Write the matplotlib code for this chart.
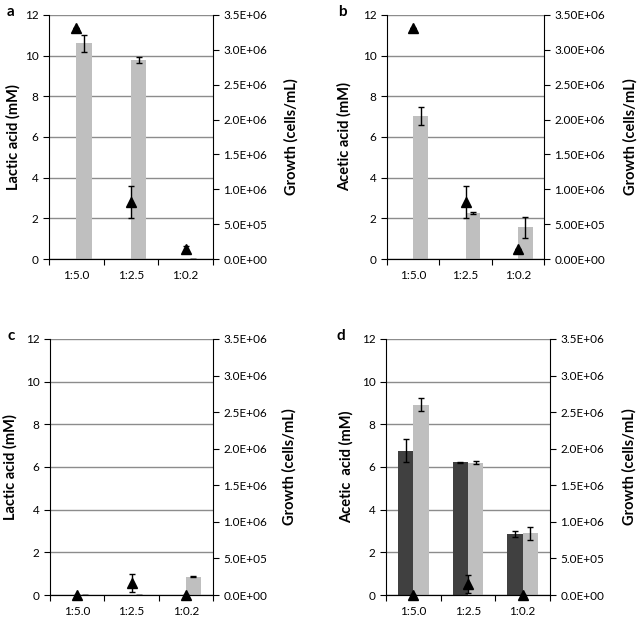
import numpy as np
import matplotlib.pyplot as plt

plt.rcParams['font.family'] = ['Lato', 'DejaVu Sans']

ratios = ['1:5.0', '1:2.5', '1:0.2']

# panel a: lactic acid + growth
a_acid = [10.6, 9.79, 0.0]
a_acid_err = [0.42, 0.15, 0.0]
a_growth = [3.31e6, 8.2e5, 1.5e5]
a_growth_err = [0.0, 2.3e5, 3e4]

# panel b: acetic acid + growth
b_acid = [7.02, 2.25, 1.57]
b_acid_err = [0.45, 0.05, 0.52]
b_growth = [3.31e6, 8.2e5, 1.5e5]
b_growth_err = [0.0, 2.3e5, 0.0]

# panel c: lactic acid + growth
c_acid = [0.0, 0.0, 0.86]
c_acid_err = [0.0, 0.0, 0.02]
c_growth = [0.0, 1.6e5, 0.0]
c_growth_err = [0.0, 1.25e5, 0.0]

# panel d: acetic acid (two series) + growth
d_acid_dark = [6.76, 6.23, 2.86]
d_acid_dark_err = [0.53, 0.02, 0.14]
d_acid_light = [8.92, 6.2, 2.9]
d_acid_light_err = [0.3, 0.07, 0.3]
d_growth = [0.0, 1.5e5, 0.0]
d_growth_err = [0.0, 1.25e5, 0.0]

LIGHT = '#bfbfbf'
DARK = '#404040'
TICKFS = 8.5
LABFS = 10.5


def panel(rect, letter, acid, acid_err, growth, growth_err, ylabel, fmt,
          lab_left, lab_right, dark=None, dark_err=None):
    ax = fig.add_axes(rect)
    x = np.arange(len(ratios))
    w = 0.28
    if dark is not None:
        ax.bar(x - w / 2, dark, w, color=DARK, zorder=2)
        ax.errorbar(x - w / 2, dark, yerr=dark_err, fmt='none', ecolor='black',
                    elinewidth=1, capsize=2.5, zorder=3)
    ax.bar(x + w / 2, acid, w, color=LIGHT, zorder=2)
    ax.errorbar(x + w / 2, acid, yerr=acid_err, fmt='none', ecolor='black',
                elinewidth=1, capsize=2.5, zorder=3)
    ax.set_xlim(-0.5, 2.5)
    ax.set_ylim(0, 12)
    ax.set_yticks(range(0, 13, 2))
    ax.yaxis.grid(True, color='#8c8c8c', lw=1)
    ax.set_axisbelow(True)
    ax.set_xticks([-0.5, 0.5, 1.5, 2.5])
    ax.set_xticklabels([])
    ax.set_xticks(x, minor=True)
    ax.set_xticklabels(ratios, minor=True)
    ax.tick_params(axis='x', which='major', direction='out', length=4)
    ax.tick_params(axis='x', which='minor', length=0, pad=8, labelsize=TICKFS)
    ax.tick_params(axis='y', direction='out', length=4, labelsize=TICKFS)
    for s in ['top', 'right']:
        ax.spines[s].set_visible(False)
    ax.set_ylabel(ylabel, fontsize=LABFS, fontweight='bold', va='center')
    ax.yaxis.set_label_coords(lab_left, 0.5)

    ax2 = ax.twinx()
    ax2.errorbar(x, growth, yerr=growth_err, fmt='^', color='black', ms=7,
                 ecolor='black', elinewidth=1, capsize=2.5, clip_on=False, zorder=4)
    ax2.set_ylim(0, 3.5e6)
    ax2.set_yticks(np.arange(0, 3.51e6, 5e5))
    ax2.set_yticklabels([fmt.format(v) for v in np.arange(0, 3.51e6, 5e5)])
    ax2.tick_params(axis='y', direction='out', length=4, labelsize=TICKFS)
    for s in ['top', 'left']:
        ax2.spines[s].set_visible(False)
    ax2.set_ylabel('Growth (cells/mL)', fontsize=LABFS, fontweight='bold',
                   va='center', rotation=90)
    ax2.yaxis.set_label_coords(lab_right, 0.5)

    fig.text(rect[0] - 0.067 if letter in 'ac' else rect[0] - 0.077,
             rect[1] + rect[3] + 0.005, letter, fontsize=11, fontweight='bold',
             va='center', ha='left')
    return ax


fig = plt.figure(figsize=(6.38, 6.22), dpi=100)

panel([0.0768, 0.5836, 0.257, 0.3923], 'a', a_acid, a_acid_err, a_growth,
      a_growth_err, 'Lactic acid (mM)', '{:.1E}', -0.22, 1.48)
panel([0.6066, 0.5836, 0.2461, 0.3923], 'b', b_acid, b_acid_err, b_growth,
      b_growth_err, 'Acetic acid (mM)', '{:.2E}', -0.27, 1.55)
panel([0.0784, 0.0434, 0.2555, 0.4116], 'c', c_acid, c_acid_err, c_growth,
      c_growth_err, 'Lactic acid (mM)', '{:.1E}', -0.245, 1.47)
panel([0.605, 0.0434, 0.257, 0.4116], 'd', d_acid_light, d_acid_light_err,
      d_growth, d_growth_err, 'Acetic  acid (mM)', '{:.1E}', -0.244, 1.486,
      dark=d_acid_dark, dark_err=d_acid_dark_err)

fig.savefig('out.png', dpi=100)
